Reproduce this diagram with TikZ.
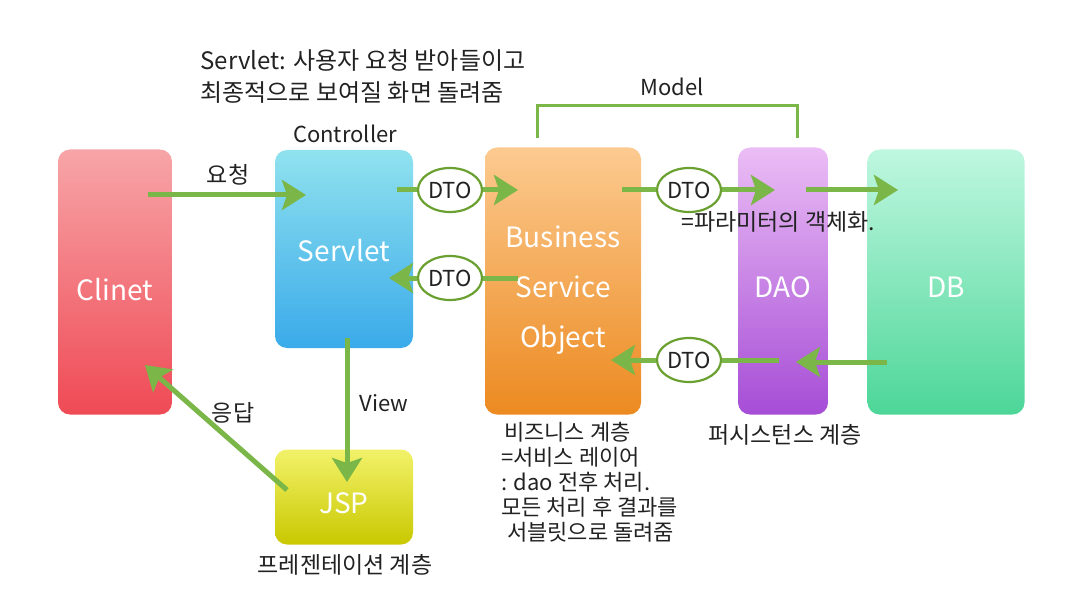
\documentclass[tikz,border=0pt]{standalone}
\usepackage{fontspec}
\setmainfont{Noto Sans CJK KR}
\usetikzlibrary{arrows.meta,shapes.geometric}
\definecolor{arrgreen}{HTML}{7AB648}
\definecolor{dtogreen}{HTML}{6AA030}
\definecolor{txt}{HTML}{222222}
\tikzset{
  box/.style={rounded corners=12pt, inner sep=0pt},
  boxtext/.style={text=white, font=\fontsize{28}{50}\selectfont, align=center, inner sep=0pt},
  dto/.style={ellipse, draw=dtogreen, line width=2.2pt, fill=white, minimum width=64pt, minimum height=44pt, inner sep=0pt, font=\fontsize{22}{24}\selectfont, text=txt},
  arr/.style={draw=arrgreen, line width=5pt, -{Stealth[length=24pt,width=30pt,inset=5pt]}},
  ln/.style={draw=arrgreen, line width=5pt},
  lbl/.style={font=\fontsize{22}{26}\selectfont, text=txt},
  klbl/.style={font=\fontsize{23}{26}\selectfont, text=txt},
}
\begin{document}
\begin{tikzpicture}[x=1pt,y=-1pt]
\useasboundingbox (0,0) rectangle (1070,604);
% boxes
\node[box, top color={rgb,255:red,247;green,165;blue,168}, bottom color={rgb,255:red,239;green,74;blue,85}, minimum width=114pt, minimum height=265pt] (clinet) at (115,282) {};
\node[box, top color={rgb,255:red,144;green,226;blue,238}, bottom color={rgb,255:red,58;green,170;blue,234}, minimum width=138pt, minimum height=198pt] (servlet) at (344,249) {};
\node[box, top color={rgb,255:red,252;green,202;blue,144}, bottom color={rgb,255:red,236;green,138;blue,32}, minimum width=156pt, minimum height=267pt] (bso) at (563,281) {};
\node[box, top color={rgb,255:red,235;green,189;blue,245}, bottom color={rgb,255:red,166;green,77;blue,214}, minimum width=90pt, minimum height=267pt] (dao) at (783,281) {};
\node[box, top color={rgb,255:red,191;green,247;blue,224}, bottom color={rgb,255:red,77;green,214;blue,152}, minimum width=157pt, minimum height=265pt] (db) at (946,282) {};
\node[box, top color={rgb,255:red,242;green,242;blue,106}, bottom color={rgb,255:red,201;green,200;blue,0}, minimum width=138pt, minimum height=95pt] (jsp) at (344,497) {};
% box texts
\node[boxtext] (clinet-t) at ([yshift=-8pt]clinet.center) {Clinet};
\node[boxtext] (servlet-t) at ([yshift=-2pt]servlet.center) {Servlet};
\node[boxtext] (bso-t) at ([yshift=-9pt]bso.center) {Business\\Service\\Object};
\node[boxtext] (dao-t) at ([yshift=-6pt]dao.center) {DAO};
\node[boxtext] (db-t) at ([yshift=-5pt]db.center) {DB};
\node[boxtext] (jsp-t) at ([yshift=-6pt]jsp.center) {JSP};
% DTO ellipses
\node[dto] (d1) at (450,190) {DTO};
\node[dto] (d2) at (450,278) {DTO};
\node[dto] (d3) at (689,190) {DTO};
\node[dto] (d4) at (689,360) {DTO};
% connector end points
\coordinate (c1s) at (148,195); \coordinate (c1e) at (306,195);
\coordinate (s1) at (397,190); \coordinate (b1) at (518,190);
\coordinate (b2) at (518,278); \coordinate (s2) at (389,278);
\coordinate (b3) at (622,190); \coordinate (da1) at (775,190);
\coordinate (da2) at (806,190); \coordinate (db1) at (898,190);
\coordinate (db2) at (887,362); \coordinate (da3) at (796,362);
\coordinate (da4) at (779,360); \coordinate (b4) at (611,360);
\coordinate (s3) at (347,338); \coordinate (j1) at (347,482);
\coordinate (j2) at (287,490); \coordinate (c2) at (145,365);
\coordinate (m1) at (537,138); \coordinate (m2) at (537,106);
\coordinate (m3) at (797,106); \coordinate (m4) at (797,138);
% connectors
\draw[arr] (c1s) -- (c1e);
\draw[ln] (s1) -- (d1.west);
\draw[arr] (d1.east) -- (b1);
\draw[ln] (b2) -- (d2.east);
\draw[arr] (d2.west) -- (s2);
\draw[ln] (b3) -- (d3.west);
\draw[arr] (d3.east) -- (da1);
\draw[arr] (da2) -- (db1);
\draw[arr] (db2) -- (da3);
\draw[ln] (da4) -- (d4.east);
\draw[arr] (d4.west) -- (b4);
\draw[arr] (s3) -- (j1);
\draw[arr] (j2) -- (c2);
\draw[draw=arrgreen, line width=3pt] (m1) -- (m2) -- (m3) -- (m4);
% labels
\node[anchor=west, align=left, font=\fontsize{24}{32}\selectfont, text=txt] (note) at (197,76) {Servlet: 사용자 요청 받아들이고\\최종적으로 보여질 화면 돌려줌};
\node[lbl] (ctrl) at (345,134) {Controller};
\node[lbl] (model) at (672,87) {Model};
\node[klbl] (req) at (228,175) {요청};
\node[lbl] (view) at (384,403) {View};
\node[klbl] (resp) at (233,413) {응답};
\node[klbl, anchor=west] (param) at (678,222) {=파라미터의 객체화.};
\node[klbl, anchor=north west, align=left, font=\fontsize{22}{25}\selectfont, inner sep=0pt] (biz) at (501,422) {\hspace{3pt}비즈니스 계층\\=서비스 레이어\\: dao 전후 처리.\\모든 처리 후 결과를\\\hspace{6pt}서블릿으로 돌려줌};
\node[klbl] (pers) at (785,435) {퍼시스턴스 계층};
\node[klbl] (pres) at (345,565) {프레젠테이션 계층};
\end{tikzpicture}
\end{document}
